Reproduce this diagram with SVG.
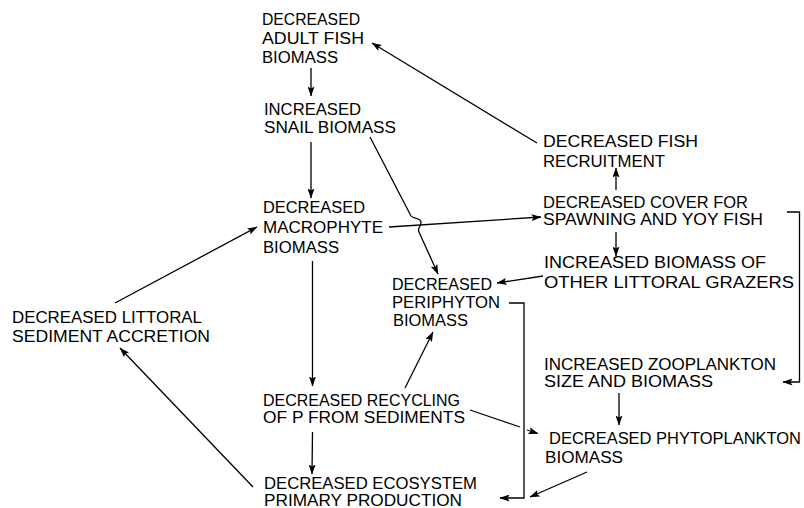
<svg xmlns="http://www.w3.org/2000/svg" width="804" height="508" viewBox="0 0 804 508">
<style>
text{font-family:"Liberation Sans",Arial,sans-serif;font-size:16px;fill:#000}
.c line,.c path{stroke:#000;stroke-width:1.3;fill:none}
</style>
<defs>
<marker id="ah" markerUnits="userSpaceOnUse" markerWidth="10" markerHeight="7" refX="9.5" refY="3.5" orient="auto">
<path d="M0,0 L10,3.5 L0,7 L2,3.5 z" fill="#000"/>
</marker>
</defs>
<rect width="804" height="508" fill="#fff"/>
<g id="adultfish">
<text x="262" y="25" textLength="98" lengthAdjust="spacingAndGlyphs">DECREASED</text>
<text x="262" y="44" textLength="102" lengthAdjust="spacingAndGlyphs">ADULT FISH</text>
<text x="262" y="63" textLength="76" lengthAdjust="spacingAndGlyphs">BIOMASS</text>
</g>
<g id="snail">
<text x="264" y="115" textLength="97" lengthAdjust="spacingAndGlyphs">INCREASED</text>
<text x="264" y="133" textLength="132" lengthAdjust="spacingAndGlyphs">SNAIL BIOMASS</text>
</g>
<g id="macrophyte">
<text x="263" y="213" textLength="102" lengthAdjust="spacingAndGlyphs">DECREASED</text>
<text x="263" y="233" textLength="120" lengthAdjust="spacingAndGlyphs">MACROPHYTE</text>
<text x="263" y="253" textLength="76" lengthAdjust="spacingAndGlyphs">BIOMASS</text>
</g>
<g id="periphyton">
<text x="392" y="290" textLength="100" lengthAdjust="spacingAndGlyphs">DECREASED</text>
<text x="392" y="308" textLength="108" lengthAdjust="spacingAndGlyphs">PERIPHYTON</text>
<text x="393" y="326" textLength="75" lengthAdjust="spacingAndGlyphs">BIOMASS</text>
</g>
<g id="recycling">
<text x="263" y="406" textLength="197" lengthAdjust="spacingAndGlyphs">DECREASED RECYCLING</text>
<text x="263" y="423" textLength="202" lengthAdjust="spacingAndGlyphs">OF P FROM SEDIMENTS</text>
</g>
<g id="primary">
<text x="264" y="489" textLength="213" lengthAdjust="spacingAndGlyphs">DECREASED ECOSYSTEM</text>
<text x="264" y="506" textLength="198" lengthAdjust="spacingAndGlyphs">PRIMARY PRODUCTION</text>
</g>
<g id="littoral">
<text x="12" y="323" textLength="190" lengthAdjust="spacingAndGlyphs">DECREASED LITTORAL</text>
<text x="12" y="342" textLength="198" lengthAdjust="spacingAndGlyphs">SEDIMENT ACCRETION</text>
</g>
<g id="recruitment">
<text x="543" y="147" textLength="155" lengthAdjust="spacingAndGlyphs">DECREASED FISH</text>
<text x="543" y="167" textLength="122" lengthAdjust="spacingAndGlyphs">RECRUITMENT</text>
</g>
<g id="cover">
<text x="543" y="208" textLength="205" lengthAdjust="spacingAndGlyphs">DECREASED COVER FOR</text>
<text x="543" y="225" textLength="220" lengthAdjust="spacingAndGlyphs">SPAWNING AND YOY FISH</text>
</g>
<g id="grazers">
<text x="544" y="268" textLength="222" lengthAdjust="spacingAndGlyphs">INCREASED BIOMASS OF</text>
<text x="544" y="288" textLength="250" lengthAdjust="spacingAndGlyphs">OTHER LITTORAL GRAZERS</text>
</g>
<g id="zooplankton">
<text x="544" y="370" textLength="232" lengthAdjust="spacingAndGlyphs">INCREASED ZOOPLANKTON</text>
<text x="544" y="387" textLength="169" lengthAdjust="spacingAndGlyphs">SIZE AND BIOMASS</text>
</g>
<g id="phytoplankton">
<text x="549" y="444" textLength="252" lengthAdjust="spacingAndGlyphs">DECREASED PHYTOPLANKTON</text>
<text x="545" y="463" textLength="78" lengthAdjust="spacingAndGlyphs">BIOMASS</text>
</g>
<g id="connectors" class="c">
<line x1="311" y1="68" x2="311" y2="96" marker-end="url(#ah)"/>
<line x1="311" y1="142" x2="311" y2="198" marker-end="url(#ah)"/>
<line x1="312.5" y1="261" x2="312.5" y2="386" marker-end="url(#ah)"/>
<line x1="312.5" y1="432" x2="312" y2="474" marker-end="url(#ah)"/>
<line x1="405" y1="388" x2="433" y2="332" marker-end="url(#ah)"/>
<path d="M370,137 L411,216 C413,219 420,217 421,222 C421,227 417,228 419,232 L438,274" marker-end="url(#ah)"/>
<line x1="389" y1="227" x2="541" y2="217" marker-end="url(#ah)"/>
<line x1="616" y1="190" x2="616" y2="168" marker-end="url(#ah)"/>
<line x1="616" y1="232" x2="616" y2="256" marker-end="url(#ah)"/>
<line x1="537" y1="143" x2="372" y2="43" marker-end="url(#ah)"/>
<line x1="543" y1="276" x2="497" y2="283" marker-end="url(#ah)"/>
<line x1="115" y1="303" x2="257" y2="227" marker-end="url(#ah)"/>
<line x1="253" y1="487" x2="120" y2="348" marker-end="url(#ah)"/>
<line x1="470" y1="410" x2="520" y2="427"/>
<line x1="527" y1="430" x2="538" y2="433.5" marker-end="url(#ah)"/>
<line x1="587" y1="472" x2="530" y2="497" marker-end="url(#ah)"/>
<path d="M509,303 H524 V498 H500" marker-end="url(#ah)"/>
<path d="M787,212 H799.5 V382 H783" marker-end="url(#ah)"/>
<line x1="619" y1="393" x2="619" y2="425" marker-end="url(#ah)"/>
</g>
</svg>
